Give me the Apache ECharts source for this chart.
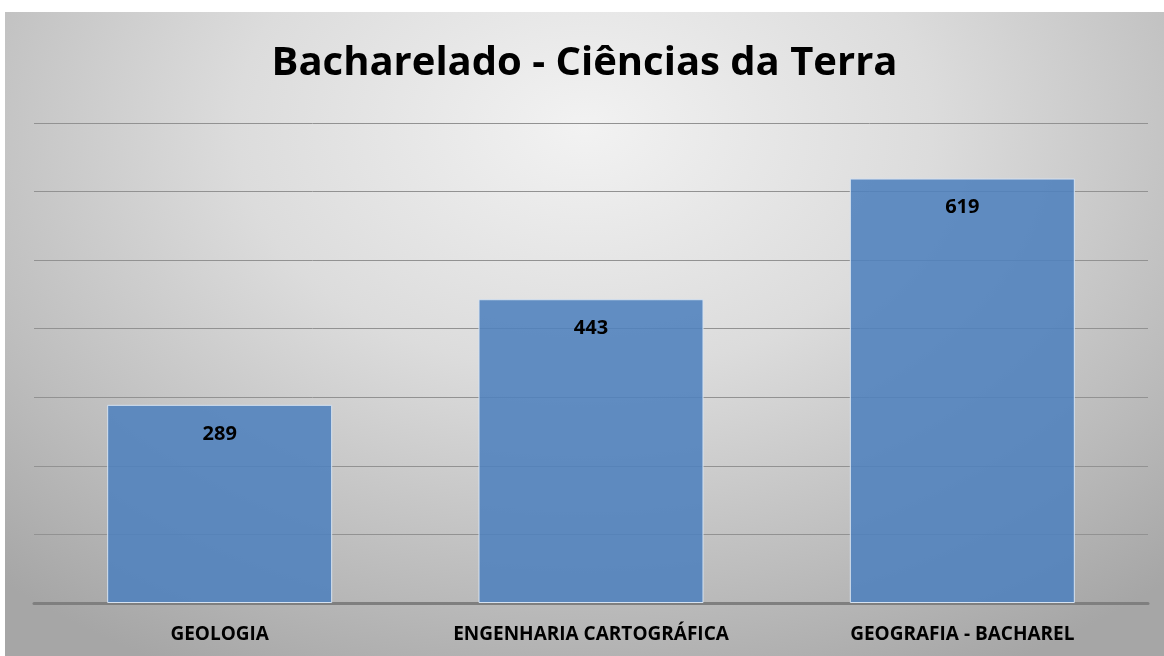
<!DOCTYPE html>
<html>
<head>
  <meta charset="utf-8">
  <script src="https://cdn.jsdelivr.net/npm/echarts@6/dist/echarts.min.js"></script>
  <title>Bacharelado - Ciências da Terra</title>
  <style>
    html, body { margin: 0; padding: 0; background: #fff; }
    #wrap {
      position: absolute; left: 5px; top: 12px; width: 1159px; height: 644px;
      background: radial-gradient(ellipse 75% 95% at 50% 18%, #f2f2f2 0%, #dcdcdc 40%, #bdbdbd 75%, #a6a6a6 100%);
    }
    #chart { width: 1159px; height: 644px; }
  </style>
</head>
<body>
  <div id="wrap"><div id="chart"></div></div>
  <script>
    const categories = ["GEOLOGIA", "ENGENHARIA CARTOGRÁFICA", "GEOGRAFIA - BACHAREL"];
    const values = [289, 443, 619];

    const chart = echarts.init(document.getElementById("chart"));
    const font = "'Open Sans', 'Liberation Sans', sans-serif";

    chart.setOption({
      animation: false,
      title: {
        text: "Bacharelado - Ciências da Terra",
        left: "center",
        top: 27,
        textStyle: { fontFamily: font, fontSize: 40, fontWeight: "bold", color: "#000" },
      },
      grid: { left: 29, right: 16, top: 111, bottom: 53 },
      xAxis: {
        type: "category",
        data: categories,
        axisLine: { lineStyle: { color: "#7f7f7f", width: 3 } },
        axisTick: { show: false },
        axisLabel: {
          interval: 0,
          hideOverlap: false,
          margin: 22,
          fontFamily: font, fontSize: 19, fontWeight: "bold", color: "#000",
        },
      },
      yAxis: {
        type: "value",
        min: 0,
        max: 700,
        interval: 100,
        axisLabel: { show: false },
        axisLine: { show: false },
        axisTick: { show: false },
        splitLine: { lineStyle: { color: "#929292", width: 1 } },
      },
      series: [
        {
          type: "bar",
          data: values,
          barWidth: 225,
          itemStyle: {
            color: "rgba(79,129,189,0.88)",
            borderColor: "#d6e2f0",
            borderWidth: 1,
          },
          label: {
            show: true,
            position: "insideTop",
            distance: 19,
            fontFamily: font, fontSize: 20, fontWeight: "bold", color: "#000",
          },
        },
      ],
    });
  </script>
</body>
</html>
